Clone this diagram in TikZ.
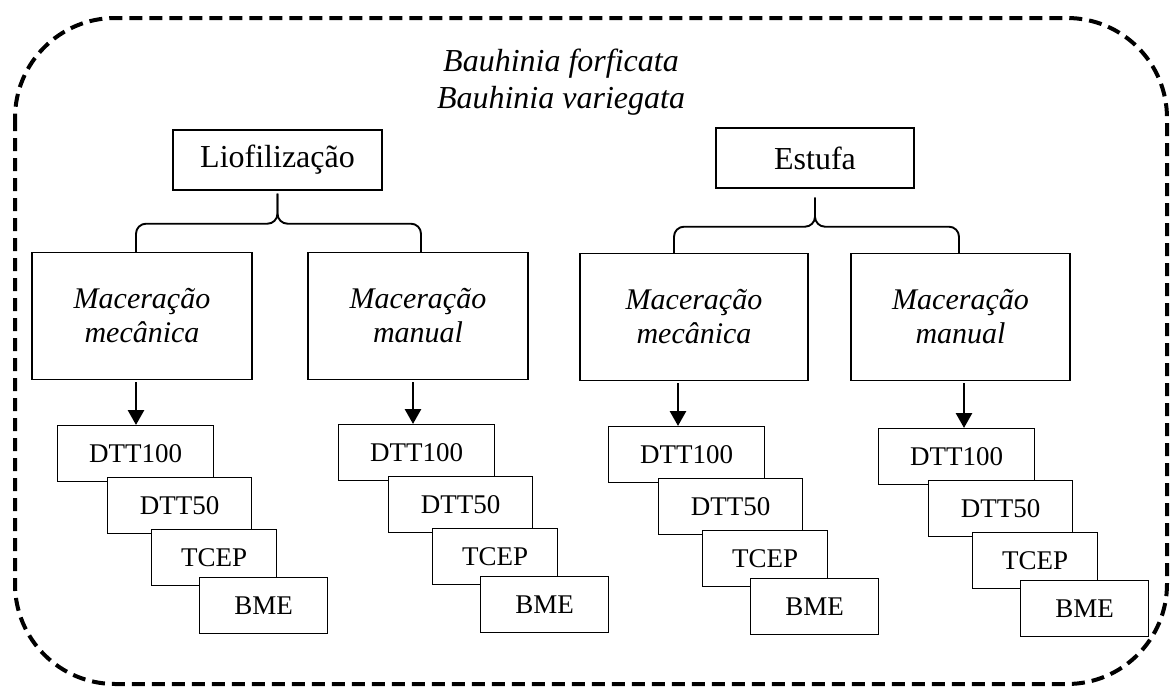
\documentclass[tikz,border=0pt]{standalone}
\usepackage{fontspec}
\setmainfont{Liberation Serif}
\usetikzlibrary{arrows.meta,calc}
\begin{document}
\begin{tikzpicture}[x=1pt,y=-1pt,
  box/.style={draw,line width=1.4pt,fill=white,inner sep=0pt,align=center},
  topbox/.style={box,minimum width=#1,minimum height=60pt,font={\fontsize{32}{36}\selectfont}},
  macbox/.style={box,minimum width=#1,minimum height=127pt,font={\fontsize{30}{34}\selectfont\itshape}},
  sbox/.style={box,anchor=north west,minimum width=#1,minimum height=56pt,font={\fontsize{27}{30}\selectfont}},
  brc/.style={line width=1.9pt,rounded corners=10pt},
  arr/.style={line width=2.8pt,-{Triangle[length=15pt,width=16pt]}},
  frame/.style={line width=4pt,dash pattern=on 13pt off 7pt,rounded corners=100pt}]
\useasboundingbox (0,0) rectangle (1171,686);
\draw[frame] (15,18) rectangle (1167,684);
\node[anchor=base,align=center,font={\fontsize{32}{37}\selectfont\itshape}] (title) at (561,108)
  {Bauhinia forficata\\Bauhinia variegata};
\node[topbox=209pt] (lio) at (277.5,160) {Liofilização};
\node[topbox=198pt] (est) at (815,158) {Estufa};
\node[macbox=220pt] (m1) at (142,316) {Maceração\\mecânica};
\node[macbox=220pt] (m2) at (418,316) {Maceração\\manual};
\node[macbox=228pt] (m3) at (694,317) {Maceração\\mecânica};
\node[macbox=219pt] (m4) at (960.5,317) {Maceração\\manual};
% braces
\draw[brc] ($(m1.north)+(-6,0)$) |- ($(lio.south)+(0,33)$) -- ($(lio.south)+(0,3)$);
\draw[brc] ($(m2.north)+(3,0)$) |- ($(lio.south)+(0,33)$) -- ($(lio.south)+(0,3)$);
\draw[brc] ($(m3.north)+(-20,0)$) |- ($(est.south)+(0,38)$) -- ($(est.south)+(0,9)$);
\draw[brc] ($(m4.north)+(-1.5,0)$) |- ($(est.south)+(0,38)$) -- ($(est.south)+(0,9)$);
% stacked boxes
\newcommand{\grp}[3]{%
  \node[sbox=156pt] (a#1) at (#2,#3) {DTT100};
  \node[sbox=144pt] (b#1) at (#2+50,#3+52) {DTT50};
  \node[sbox=125pt] (c#1) at (#2+94,#3+104) {TCEP};
  \node[sbox=128pt] (d#1) at (#2+142,#3+152) {BME};
}
\grp{1}{57}{425}
\grp{2}{338}{424}
\grp{3}{608}{426}
\grp{4}{878}{428}
% arrows
\coordinate (s1) at ($(m1.south)+(-6,2)$);
\coordinate (s2) at ($(m2.south)+(-5,2)$);
\coordinate (s3) at ($(m3.south)+(-16,2)$);
\coordinate (s4) at ($(m4.south)+(3.5,2)$);
\draw[arr] (s1) -- (s1 |- a1.north);
\draw[arr] (s2) -- (s2 |- a2.north);
\draw[arr] (s3) -- (s3 |- a3.north);
\draw[arr] (s4) -- (s4 |- a4.north);
\end{tikzpicture}
\end{document}
